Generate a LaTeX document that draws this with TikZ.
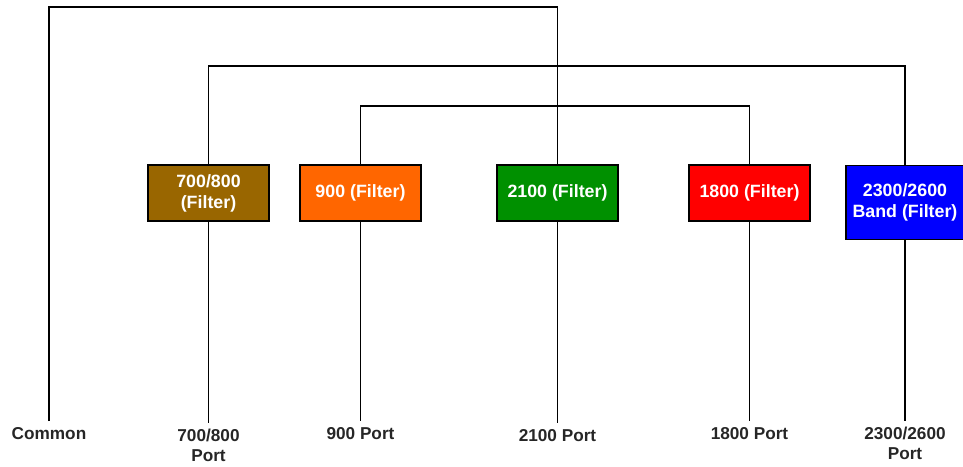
\documentclass[tikz,border=0pt]{standalone}
\usepackage{fontspec}
\setmainfont{Liberation Sans}
\definecolor{cbrown}{HTML}{996600}
\definecolor{corange}{HTML}{FF6600}
\definecolor{cgreen}{HTML}{009000}
\definecolor{cred}{HTML}{FF0000}
\definecolor{cblue}{HTML}{0000FF}
\begin{document}
\begin{tikzpicture}[x=1pt,y=-1pt,
  filterbox/.style={draw=black,line width=1.6pt,minimum width=121pt,minimum height=56pt,inner sep=0pt,
    text=white,font=\fontsize{17.8}{21}\selectfont\bfseries,align=center},
  portlabel/.style={anchor=north,inner sep=6pt,text=black!85,font=\fontsize{17.2}{20}\selectfont\bfseries,align=center},
  wire/.style={draw=black,line width=1.5pt}]
\useasboundingbox (0,0) rectangle (963,466);
\node[filterbox,fill=cbrown] (n700) at (208.5,193) {700/800\\(Filter)};
\node[filterbox,fill=corange] (n900) at (360.5,193) {900 (Filter)};
\node[filterbox,fill=cgreen] (n2100) at (557.5,193) {2100 (Filter)};
\node[filterbox,fill=cred] (n1800) at (749.5,193) {1800 (Filter)};
\node[filterbox,fill=cblue,minimum width=118pt,minimum height=74pt] (n2300) at (905,202.5) {2300/2600\\Band (Filter)};
\node[portlabel] (common) at (49,421) {Common};
\node[portlabel] (p700) at (208.5,423) {700/800\\Port};
\node[portlabel] (p900) at (360.5,421) {900 Port};
\node[portlabel] (p2100) at (557.5,423) {2100 Port};
\node[portlabel] (p1800) at (749.5,421) {1800 Port};
\node[portlabel] (p2300) at (905,421) {2300/2600\\Port};
\coordinate (top) at (557.5,7);
\draw[wire] (common.north) |- (top) -- (n2100.north);
\draw[wire] (n700.north) -- ++(0,-98) -| (n2300.north);
\draw[wire] (n900.north) -- ++(0,-58) -| (n1800.north);
\draw[wire] (n700.south) -- (p700.north);
\draw[wire] (n900.south) -- (p900.north);
\draw[wire] (n2100.south) -- (p2100.north);
\draw[wire] (n1800.south) -- (p1800.north);
\draw[wire] (n2300.south) -- (p2300.north);
\end{tikzpicture}
\end{document}
